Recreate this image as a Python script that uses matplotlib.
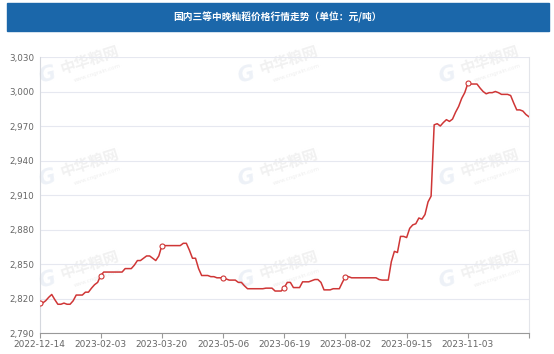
import matplotlib
matplotlib.use("Agg")
import matplotlib.pyplot as plt
from matplotlib.patches import Rectangle

title = "国内三等中晚籼稻价格行情走势（单位：元/吨）"
tick_labels = ["2022-12-14", "2023-02-03", "2023-03-20", "2023-05-06",
               "2023-06-19", "2023-08-02", "2023-09-15", "2023-11-03", ""]
points_per_label = 20
prices = [
    2816, 2816, 2818, 2821, 2823.5, 2819, 2815, 2815, 2816, 2815,
    2815, 2818, 2823, 2823, 2823, 2825.5, 2825.5, 2829, 2832, 2834,
    2840, 2843, 2843, 2843, 2843, 2843, 2843, 2843, 2846, 2846,
    2846, 2849, 2853, 2853, 2855, 2857, 2857, 2855, 2853, 2857,
    2866, 2866, 2866, 2866, 2866, 2866, 2866, 2868, 2868, 2862,
    2855, 2855, 2846, 2840, 2840, 2840, 2839, 2839, 2838, 2838,
    2838, 2837, 2836, 2836, 2836, 2834, 2834, 2831, 2828.5, 2828.5,
    2828.5, 2828.5, 2828.5, 2828.5, 2829, 2829, 2829, 2826.5, 2826.5, 2826.5,
    2829.5, 2834, 2834, 2829.5, 2829.5, 2829.5, 2834.5, 2834.5, 2834.5, 2835.5,
    2836.5, 2836.5, 2834, 2827.5, 2827.5, 2827.5, 2828.5, 2828.5, 2828.5, 2834,
    2839, 2839, 2838, 2838, 2838, 2838, 2838, 2838, 2838, 2838,
    2838, 2836.5, 2836, 2836, 2836, 2852, 2861, 2860, 2874, 2874,
    2873, 2881, 2884, 2885, 2890, 2889, 2893, 2904, 2909, 2971,
    2972, 2970, 2973, 2975.5, 2974, 2976, 2982, 2987, 2994, 2999,
    3007, 3006.5, 3006.5, 3006.5, 3003, 3000, 2998, 2999, 2999, 3000,
    2999, 2997.5, 2997.5, 2997.5, 2996.5, 2990, 2984, 2984, 2983, 2980,
    2978,
]
y_ticks = [2790, 2820, 2850, 2880, 2910, 2940, 2970, 3000, 3030]
marked_labels = ["2022-12-14", "2023-02-03", "2023-03-20", "2023-05-06",
                 "2023-06-19", "2023-08-02", "2023-11-03"]

W, H = 554, 354
fig = plt.figure(figsize=(W / 100, H / 100), dpi=100)
cjk = ["Noto Sans CJK SC", "DejaVu Sans"]

def fx(px):
    return px / W

def fy(py):
    return 1 - py / H

# title bar
fig.patches.append(Rectangle((fx(7), fy(31)), fx(549) - fx(7), 28 / H,
                             transform=fig.transFigure, color="#1b67aa", zorder=0))
fig.text(0.5, fy(17), title, color="white", fontsize=7, fontweight="bold",
         ha="center", va="center", family=cjk)

# faint watermarks
for ly in [75, 178, 280]:
    for lx in [47, 246, 447]:
        fig.text(fx(lx), fy(ly), "G", color="#edf1f7", fontsize=15, fontweight="bold",
                 style="italic", ha="center", va="center", rotation=15, zorder=0.5)
        fig.text(fx(lx + 43), fy(ly - 15), "中华粮网", color="#f1f1f1", fontsize=11,
                 fontweight="bold", ha="center", va="center", rotation=18,
                 family=cjk, zorder=0.5)
        fig.text(fx(lx + 50), fy(ly - 2), "www.cngrain.com", color="#eeeeee",
                 fontsize=4, ha="center", va="center", rotation=18, zorder=0.5)

ax = fig.add_axes([fx(39.5), fy(333), fx(529) - fx(39.5), (333 - 57) / H], zorder=1)
ax.set_facecolor("none")

x = list(range(len(prices)))
tick_pos = [i * points_per_label for i in range(len(tick_labels))]
mark_idx = [tick_pos[tick_labels.index(lbl)] for lbl in marked_labels]

ax.plot(x, prices, color="#cf3636", lw=1.1, marker="o", markevery=mark_idx,
        markersize=3.6, markerfacecolor="white", markeredgecolor="#cf3636",
        markeredgewidth=0.8, zorder=3)

ax.set_xlim(0, tick_pos[-1])
ax.set_ylim(y_ticks[0], y_ticks[-1])
ax.set_yticks(y_ticks)
ax.set_yticklabels([f"{v:,}" for v in y_ticks])
ax.set_xticks(tick_pos)
ax.set_xticklabels(tick_labels)

ax.yaxis.grid(True, color="#e6e8f0", lw=0.8, zorder=0)
ax.set_axisbelow(True)
ax.tick_params(axis="y", length=0, pad=4, labelsize=6.3, labelcolor="#666666")
ax.tick_params(axis="x", length=3.5, width=0.8, color="#999999", pad=1.2,
               labelsize=6.5, labelcolor="#666666")
ax.spines["top"].set_visible(False)
ax.spines["left"].set_color("#d5d8de")
ax.spines["left"].set_linewidth(0.8)
ax.spines["right"].set_color("#e3e5ea")
ax.spines["right"].set_linewidth(0.8)
ax.spines["bottom"].set_color("#999999")
ax.spines["bottom"].set_linewidth(0.8)

fig.savefig("out.png", dpi=100)
